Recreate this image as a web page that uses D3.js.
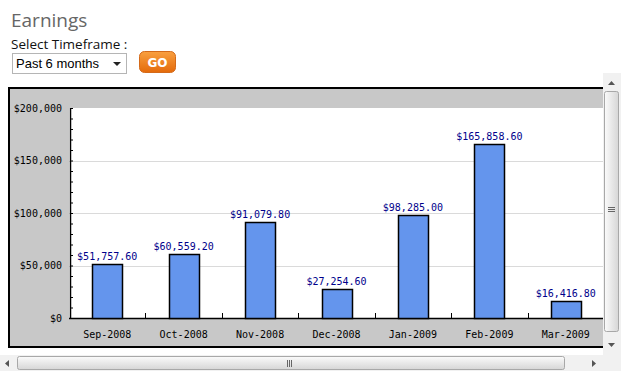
<!DOCTYPE html>
<html>
<head>
<meta charset="utf-8">
<script src="https://cdn.jsdelivr.net/npm/d3@7"></script>
<style>
  body { margin: 0; background: #fff; }
  svg { display: block; }
</style>
</head>
<body>
<div id="chart"></div>
<script>
const width = 621;
const height = 377;

// data
const months = ["Sep-2008", "Oct-2008", "Nov-2008", "Dec-2008", "Jan-2009", "Feb-2009", "Mar-2009"];
const earnings = [51757.6, 60559.2, 91079.8, 27254.6, 98285.0, 165858.6, 16416.8];
const yTicks = [0, 50000, 100000, 150000, 200000];

const svg = d3
  .select("#chart")
  .append("svg")
  .attr("width", width)
  .attr("height", height);

const defs = svg.append("defs");

// header
svg.append("text")
  .attr("x", 11).attr("y", 27)
  .attr("font-family", "Open Sans, sans-serif")
  .attr("font-size", "19px")
  .attr("fill", "#666")
  .text("Earnings");

svg.append("text")
  .attr("x", 11).attr("y", 49)
  .attr("font-family", "Open Sans, sans-serif")
  .attr("font-size", "13.5px")
  .attr("fill", "#111")
  .text("Select Timeframe :");

// select box
svg.append("rect")
  .attr("x", 12.5).attr("y", 53.5).attr("width", 114).attr("height", 20)
  .attr("fill", "#fff").attr("stroke", "#b5b5b5");
svg.append("text")
  .attr("x", 16).attr("y", 68)
  .attr("font-family", "Liberation Sans, Arial, sans-serif")
  .attr("font-size", "13px")
  .attr("fill", "#000")
  .text("Past 6 months");
svg.append("path")
  .attr("d", "M113,62 L121,62 L117,66 Z")
  .attr("fill", "#222");

// GO button
const grad = defs.append("linearGradient")
  .attr("id", "go").attr("x1", 0).attr("y1", 0).attr("x2", 0).attr("y2", 1);
grad.append("stop").attr("offset", "0%").attr("stop-color", "#f9a040");
grad.append("stop").attr("offset", "100%").attr("stop-color", "#e46a0a");
svg.append("rect")
  .attr("x", 139.5).attr("y", 51.5).attr("width", 36).attr("height", 21).attr("rx", 5)
  .attr("fill", "url(#go)").attr("stroke", "#d46a1a");
svg.append("text")
  .attr("x", 157.5).attr("y", 67)
  .attr("text-anchor", "middle")
  .attr("font-family", "DejaVu Sans, sans-serif")
  .attr("font-weight", "bold")
  .attr("font-size", "12px")
  .attr("fill", "#fff")
  .text("GO");

// chart frame (clipped at the scroll pane)
defs.append("clipPath").attr("id", "pane")
  .append("rect").attr("x", 0).attr("y", 73).attr("width", 603).attr("height", 282);

const chart = svg.append("g").attr("clip-path", "url(#pane)");

chart.append("rect")
  .attr("x", 9).attr("y", 88).attr("width", 610).attr("height", 259)
  .attr("fill", "#c8c8c8").attr("stroke", "#000").attr("stroke-width", 2);

const plotLeft = 69, plotRight = 604, plotTop = 108, plotBottom = 318;

const x = d3.scaleBand().domain(months).range([plotLeft, plotRight]).padding(0);
const y = d3.scaleLinear().domain([0, 200000]).range([plotBottom, plotTop]);

chart.append("rect")
  .attr("x", plotLeft).attr("y", plotTop)
  .attr("width", plotRight - plotLeft).attr("height", plotBottom - plotTop)
  .attr("fill", "#fff");

// gridlines
chart.selectAll(".grid")
  .data(yTicks.slice(1, -1))
  .enter()
  .append("line")
  .attr("x1", plotLeft).attr("x2", plotRight)
  .attr("y1", (d) => Math.round(y(d)) + 0.5).attr("y2", (d) => Math.round(y(d)) + 0.5)
  .attr("stroke", "#dadada");

// y axis: minor ticks pointing inward
const yAxis = d3.axisRight(y)
  .tickValues(d3.range(0, 200001, 10000))
  .tickSize(3)
  .tickFormat("");
chart.append("g")
  .attr("transform", `translate(${plotLeft + 1},0)`)
  .call(yAxis)
  .call((g) => g.select(".domain").attr("stroke-width", 1.5).attr("d", `M0.5,${plotTop}V${plotBottom}`))
  .call((g) => g.selectAll(".tick line").attr("stroke", "#000"));

chart.selectAll(".ylab")
  .data(yTicks)
  .enter()
  .append("text")
  .attr("x", 62)
  .attr("y", (d) => y(d))
  .attr("dy", "0.35em")
  .attr("text-anchor", "end")
  .attr("font-family", "DejaVu Sans Mono, monospace")
  .attr("font-size", "10px")
  .attr("fill", "#000")
  .text((d) => "$" + d3.format(",")(d));

// x axis: ticks between categories pointing up
chart.append("line")
  .attr("x1", plotLeft).attr("x2", plotRight)
  .attr("y1", plotBottom + 0.5).attr("y2", plotBottom + 0.5)
  .attr("stroke", "#000").attr("stroke-width", 1.5);
chart.selectAll(".xtick")
  .data(months.slice(1))
  .enter()
  .append("line")
  .attr("x1", (d) => Math.round(x(d)) + 0.5).attr("x2", (d) => Math.round(x(d)) + 0.5)
  .attr("y1", plotBottom).attr("y2", plotBottom - 5)
  .attr("stroke", "#000");

chart.selectAll(".xlab")
  .data(months)
  .enter()
  .append("text")
  .attr("x", (d) => x(d) + x.bandwidth() / 2)
  .attr("y", 338)
  .attr("text-anchor", "middle")
  .attr("font-family", "DejaVu Sans Mono, monospace")
  .attr("font-size", "10px")
  .attr("fill", "#000")
  .text((d) => d);

// bars
const barW = 30;
chart.selectAll(".bar")
  .data(earnings)
  .enter()
  .append("rect")
  .attr("x", (d, i) => Math.round(x(months[i]) + x.bandwidth() / 2 - barW / 2) + 0.5)
  .attr("y", (d) => Math.round(y(d)) + 0.5)
  .attr("width", barW)
  .attr("height", (d) => plotBottom - Math.round(y(d)))
  .attr("fill", "#6495ed")
  .attr("stroke", "#000")
  .attr("stroke-width", 1.5);

chart.selectAll(".val")
  .data(earnings)
  .enter()
  .append("text")
  .attr("x", (d, i) => x(months[i]) + x.bandwidth() / 2)
  .attr("y", (d) => y(d) - 4)
  .attr("text-anchor", "middle")
  .attr("font-family", "DejaVu Sans Mono, monospace")
  .attr("font-size", "10px")
  .attr("fill", "#00008b")
  .text((d) => "$" + d3.format(",.2f")(d));

// scrollbars
const sgH = defs.append("linearGradient")
  .attr("id", "thumbH").attr("x1", 0).attr("y1", 0).attr("x2", 0).attr("y2", 1);
sgH.append("stop").attr("offset", "0%").attr("stop-color", "#fbfbfb");
sgH.append("stop").attr("offset", "100%").attr("stop-color", "#d6d6d6");
const sgV = defs.append("linearGradient")
  .attr("id", "thumbV").attr("x1", 0).attr("y1", 0).attr("x2", 1).attr("y2", 0);
sgV.append("stop").attr("offset", "0%").attr("stop-color", "#fbfbfb");
sgV.append("stop").attr("offset", "100%").attr("stop-color", "#d6d6d6");

// horizontal
svg.append("rect").attr("x", 0).attr("y", 355).attr("width", 603).attr("height", 16).attr("fill", "#f1f1f1");
svg.append("rect")
  .attr("x", 17.5).attr("y", 356.5).attr("width", 547).attr("height", 13).attr("rx", 2)
  .attr("fill", "url(#thumbH)").attr("stroke", "#a8a8a8");
svg.append("path").attr("d", "M9,360 L9,367 L5,363.5 Z").attr("fill", "#555");
svg.append("path").attr("d", "M592,360 L592,367 L596,363.5 Z").attr("fill", "#555");
[287, 289, 291].forEach((gx) =>
  svg.append("line").attr("x1", gx + 0.5).attr("x2", gx + 0.5).attr("y1", 360).attr("y2", 367).attr("stroke", "#666"));

// vertical
svg.append("rect").attr("x", 603).attr("y", 73).attr("width", 18).attr("height", 298).attr("fill", "#f1f1f1");
svg.append("rect")
  .attr("x", 604.5).attr("y", 91.5).attr("width", 14).attr("height", 240).attr("rx", 2)
  .attr("fill", "url(#thumbV)").attr("stroke", "#a8a8a8");
svg.append("path").attr("d", "M608,85 L615,85 L611.5,81 Z").attr("fill", "#555");
svg.append("path").attr("d", "M608,343 L615,343 L611.5,347 Z").attr("fill", "#555");
[207, 209, 211].forEach((gy) =>
  svg.append("line").attr("x1", 608).attr("x2", 615).attr("y1", gy + 0.5).attr("y2", gy + 0.5).attr("stroke", "#666"));
</script>
</body>
</html>
